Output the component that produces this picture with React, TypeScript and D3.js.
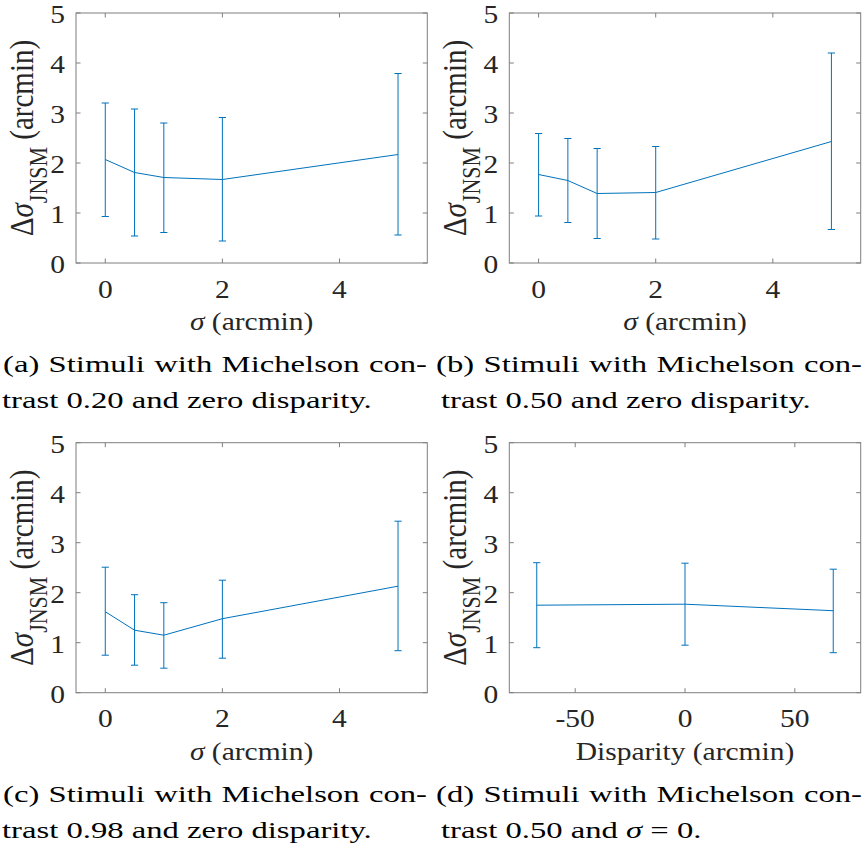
import React, { useEffect, useRef } from 'react';
import * as d3 from 'd3';

const W = 865;
const H = 859;
const SX = 1.18;
const FONT = "'Liberation Serif', 'Times New Roman', serif";
const BLUE = '#0072BD';
const AX = '#262626';

// ---- data ----
const sigmaLevels = [0, 0.5, 1, 2, 5];
const disparityLevels = [-67.5, 0, 67.5];

const meanA = [2.07, 1.81, 1.71, 1.67, 2.17];
const upperA = [3.2, 3.08, 2.8, 2.91, 3.79];
const lowerA = [0.93, 0.54, 0.61, 0.44, 0.56];

const meanB = [1.77, 1.65, 1.39, 1.41, 2.43];
const upperB = [2.59, 2.49, 2.29, 2.33, 4.2];
const lowerB = [0.94, 0.81, 0.49, 0.48, 0.67];

const meanC = [1.62, 1.25, 1.15, 1.48, 2.13];
const upperC = [2.51, 1.96, 1.8, 2.25, 3.43];
const lowerC = [0.75, 0.55, 0.49, 0.69, 0.84];

const meanD = [1.75, 1.77, 1.64];
const upperD = [2.6, 2.59, 2.47];
const lowerD = [0.9, 0.95, 0.8];

const sigmaTicks = [0, 2, 4];
const disparityTicks = [-50, 0, 50];
const yTicks = [0, 1, 2, 3, 4, 5];

const sigmaDomain = [-0.5, 5.5];
const disparityDomain = [-80, 80];
const yDomain = [0, 5];

const captionA1 = ['(a)', 'Stimuli', 'with', 'Michelson', 'con-'];
const captionA2 = [{ t: 'trast 0.20 and zero disparity.' }];
const captionB1 = ['(b)', 'Stimuli', 'with', 'Michelson', 'con-'];
const captionB2 = [{ t: 'trast 0.50 and zero disparity.' }];
const captionC1 = ['(c)', 'Stimuli', 'with', 'Michelson', 'con-'];
const captionC2 = [{ t: 'trast 0.98 and zero disparity.' }];
const captionD1 = ['(d)', 'Stimuli', 'with', 'Michelson', 'con-'];
const captionD2 = [{ t: 'trast 0.50 and ' }, { t: 'σ', it: true }, { t: ' = 0.' }];

type Part = { t: string; it?: boolean };

function STxt({ x, y, anchor, size, children }: any) {
  return (
    <g transform={`translate(${x},${y}) scale(${SX},1)`}>
      <text textAnchor={anchor} fontSize={size} fill={AX} fontFamily={FONT}>
        {children}
      </text>
    </g>
  );
}

function Panel({ left, right, top, bottom, xDomain, xTicks, xs, mean, upper, lower, xLabel }: any) {
  const x = d3.scaleLinear().domain(xDomain).range([left, right]);
  const y = d3.scaleLinear().domain(yDomain).range([bottom, top]);
  const line = d3
    .line<number>()
    .x((_, i) => x(xs[i]))
    .y((d) => y(d));
  const tl = 4.5;
  const cap = 3.6;
  return (
    <g>
      {/* box */}
      <rect
        x={left}
        y={top}
        width={right - left}
        height={bottom - top}
        fill="none"
        stroke="#7f7f7f"
        strokeWidth={1}
      />
      {/* ticks */}
      {xTicks.map((t: number) => (
        <g key={'xt' + t}>
          <line x1={x(t)} x2={x(t)} y1={bottom} y2={bottom - tl} stroke="#7f7f7f" />
          <line x1={x(t)} x2={x(t)} y1={top} y2={top + tl} stroke="#7f7f7f" />
          <STxt x={x(t)} y={bottom + 34.5} anchor="middle" size={25}>
            {t < 0 ? '-' + Math.abs(t) : String(t)}
          </STxt>
        </g>
      ))}
      {yTicks.map((t: number) => (
        <g key={'yt' + t}>
          <line x1={left} x2={left + tl} y1={y(t)} y2={y(t)} stroke="#7f7f7f" />
          <line x1={right} x2={right - tl} y1={y(t)} y2={y(t)} stroke="#7f7f7f" />
          <STxt x={left - 11} y={y(t) + 10} anchor="end" size={25}>
            {String(t)}
          </STxt>
        </g>
      ))}
      {/* x label */}
      <STxt x={(left + right) / 2} y={bottom + 67} anchor="middle" size={25}>
        {xLabel}
      </STxt>
      {/* y label */}
      <g transform={`translate(${left - 43},${(top + bottom) / 2}) rotate(-90) scale(1,${SX})`}>
        <text textAnchor="middle" fontSize={29} fill={AX} fontFamily={FONT}>
          <tspan>Δ</tspan>
          <tspan fontStyle="italic">σ</tspan>
          <tspan dy={12} fontSize={22}>
            JNSM
          </tspan>
          <tspan dy={-12} fontSize={29}>
            {' (arcmin)'}
          </tspan>
        </text>
      </g>
      {/* error bars */}
      {xs.map((xv: number, i: number) => (
        <g key={'eb' + i} stroke={BLUE} strokeWidth={1}>
          <line x1={x(xv)} x2={x(xv)} y1={y(lower[i])} y2={y(upper[i])} />
          <line x1={x(xv) - cap} x2={x(xv) + cap} y1={y(lower[i])} y2={y(lower[i])} />
          <line x1={x(xv) - cap} x2={x(xv) + cap} y1={y(upper[i])} y2={y(upper[i])} />
        </g>
      ))}
      <path d={line(mean) || ''} fill="none" stroke={BLUE} strokeWidth={1} />
    </g>
  );
}

const sigmaLabel = (
  <>
    <tspan fontStyle="italic">σ</tspan>
    <tspan>{' (arcmin)'}</tspan>
  </>
);

const CAP_FS = 24;

export default function App() {
  const capRef = useRef<SVGGElement>(null);

  useEffect(() => {
    const g = d3.select(capRef.current);
    g.selectAll('*').remove();
    const probe = g
      .append('text')
      .attr('font-family', FONT)
      .attr('font-size', CAP_FS)
      .text(captionA2[0].t);
    const natural = (probe.node() as SVGTextElement).getComputedTextLength();
    probe.remove();
    const s = 370 / natural;

    const caps = [
      { l1: captionA1, l2: captionA2, x1: 3, x1e: 427, y1: 372, x2: 2, y2: 408 },
      { l1: captionB1, l2: captionB2, x1: 436, x1e: 862, y1: 372, x2: 441, y2: 408 },
      { l1: captionC1, l2: captionC2, x1: 3, x1e: 427, y1: 802, x2: 2, y2: 838 },
      { l1: captionD1, l2: captionD2, x1: 436, x1e: 862, y1: 802, x2: 441, y2: 838 },
    ];
    caps.forEach((c) => {
      const words = c.l1.map((w) => {
        const wg = g.append('g');
        const t = wg
          .append('text')
          .attr('font-family', FONT)
          .attr('font-size', CAP_FS)
          .attr('fill', '#000')
          .text(w);
        return { wg, w: (t.node() as SVGTextElement).getComputedTextLength() };
      });
      const total = d3.sum(words, (o) => o.w) * s;
      const gap = (c.x1e - c.x1 - total) / (words.length - 1);
      let cx = c.x1;
      words.forEach((o) => {
        o.wg.attr('transform', `translate(${cx},${c.y1}) scale(${s},1)`);
        cx += o.w * s + gap;
      });
      const t2 = g
        .append('g')
        .attr('transform', `translate(${c.x2},${c.y2}) scale(${s},1)`)
        .append('text')
        .attr('font-family', FONT)
        .attr('font-size', CAP_FS)
        .attr('fill', '#000');
      (c.l2 as Part[]).forEach((p) => {
        t2.append('tspan')
          .attr('font-style', p.it ? 'italic' : null)
          .text(p.t);
      });
    });
  }, []);

  return (
    <svg
      width={W}
      height={H}
      style={{ position: 'absolute', left: 0, top: 0, background: '#fff' }}
    >
      <rect width={W} height={H} fill="#fff" />
      <Panel
        left={76}
        right={427.3}
        top={13}
        bottom={263}
        xDomain={sigmaDomain}
        xTicks={sigmaTicks}
        xs={sigmaLevels}
        mean={meanA}
        upper={upperA}
        lower={lowerA}
        xLabel={sigmaLabel}
      />
      <Panel
        left={509.3}
        right={860.7}
        top={13}
        bottom={263}
        xDomain={sigmaDomain}
        xTicks={sigmaTicks}
        xs={sigmaLevels}
        mean={meanB}
        upper={upperB}
        lower={lowerB}
        xLabel={sigmaLabel}
      />
      <Panel
        left={76}
        right={427.3}
        top={442.7}
        bottom={692.7}
        xDomain={sigmaDomain}
        xTicks={sigmaTicks}
        xs={sigmaLevels}
        mean={meanC}
        upper={upperC}
        lower={lowerC}
        xLabel={sigmaLabel}
      />
      <Panel
        left={509.3}
        right={860.7}
        top={442.7}
        bottom={692.7}
        xDomain={disparityDomain}
        xTicks={disparityTicks}
        xs={disparityLevels}
        mean={meanD}
        upper={upperD}
        lower={lowerD}
        xLabel={<tspan>Disparity (arcmin)</tspan>}
      />
      <g ref={capRef} />
    </svg>
  );
}
